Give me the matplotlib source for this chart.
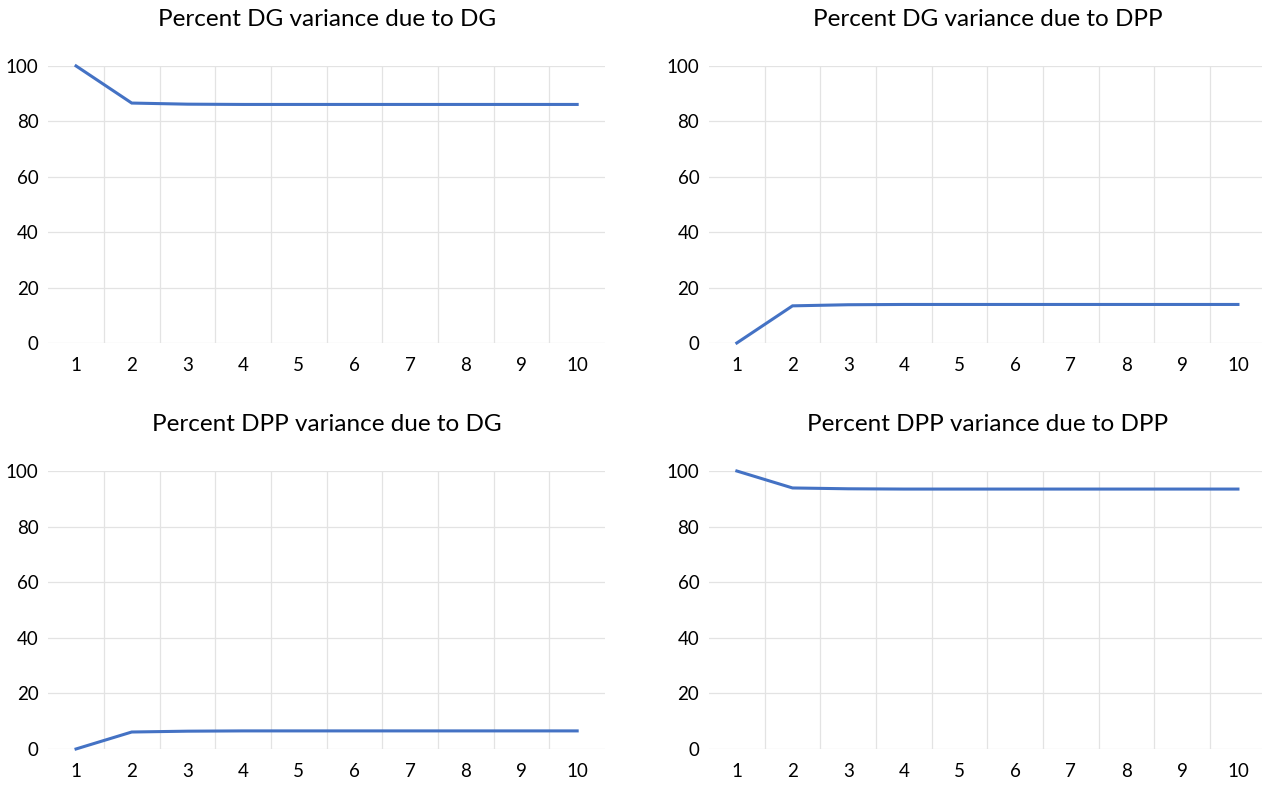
import matplotlib.pyplot as plt

periods = list(range(1, 11))

dg_due_dg = [100, 86.6, 86.2, 86.1, 86.1, 86.1, 86.1, 86.1, 86.1, 86.1]
dg_due_dpp = [0, 13.4, 13.8, 13.9, 13.9, 13.9, 13.9, 13.9, 13.9, 13.9]
dpp_due_dg = [0, 6.1, 6.4, 6.5, 6.5, 6.5, 6.5, 6.5, 6.5, 6.5]
dpp_due_dpp = [100, 93.9, 93.6, 93.5, 93.5, 93.5, 93.5, 93.5, 93.5, 93.5]

titles = ["Percent DG variance due to DG", "Percent DG variance due to DPP",
          "Percent DPP variance due to DG", "Percent DPP variance due to DPP"]
series = [dg_due_dg, dg_due_dpp, dpp_due_dg, dpp_due_dpp]
yticks = [0, 20, 40, 60, 80, 100]

plt.rcParams['font.family'] = ['Lato', 'DejaVu Sans']

fig = plt.figure(figsize=(12.62, 7.85), dpi=100)

# panel rectangles in figure fraction: left, bottom, width, height
boxes = [
    [0.0382, 0.5631, 0.4412, 0.3529],
    [0.5618, 0.5631, 0.4412, 0.3529],
    [0.0382, 0.0459, 0.4412, 0.3541],
    [0.5618, 0.0459, 0.4412, 0.3541],
]

for box, title, vals in zip(boxes, titles, series):
    ax = fig.add_axes(box)
    ax.plot(periods, vals, color='#4472C4', linewidth=2.2, solid_joinstyle='miter',
            clip_on=False, zorder=3)
    ax.set_xlim(0.5, 10.5)
    ax.set_ylim(0, 100)
    ax.set_yticks(yticks)
    ax.set_xticks(periods)
    ax.set_xticks([p + 0.5 for p in periods[:-1]], minor=True)
    ax.grid(axis='y', which='major', color='#E3E3E3', linewidth=0.9)
    ax.grid(axis='x', which='minor', color='#E3E3E3', linewidth=0.9)
    ax.tick_params(which='both', length=0)
    ax.tick_params(axis='y', pad=7, labelsize=13.5, colors='#000000')
    ax.tick_params(axis='x', pad=10, labelsize=13.5, colors='#000000')
    for s in ax.spines.values():
        s.set_visible(False)
    ax.set_title(title, fontsize=17.5, pad=29, color='#000000')

fig.savefig('out.png', dpi=100)
